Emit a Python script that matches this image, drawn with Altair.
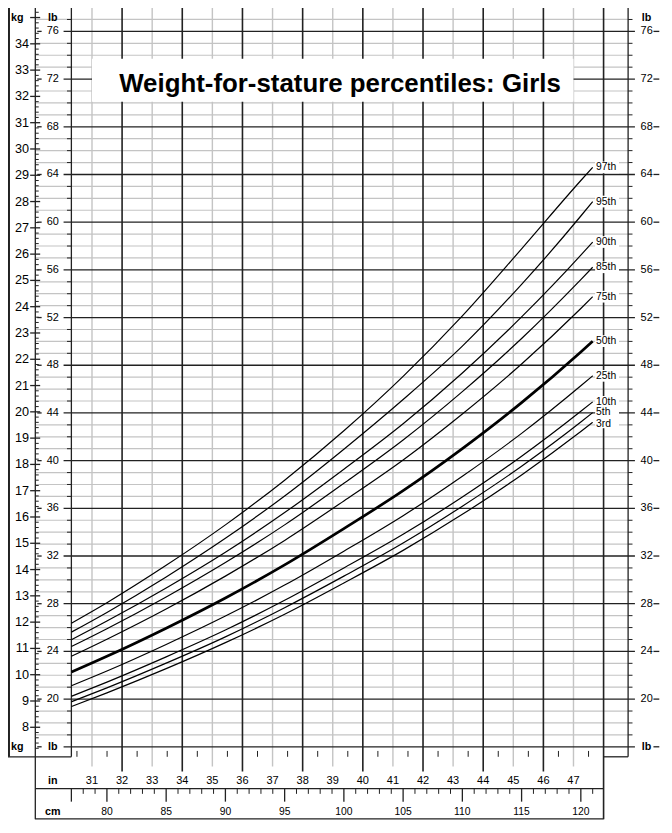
import altair as alt
import pandas as pd

stature_cm = [77, 80, 85, 90, 95, 100, 105, 110, 115, 120, 121]

# weight (kg) of each percentile curve at those statures
p97 = [11.96, 12.74, 14.16, 15.70, 17.40, 19.28, 21.35, 23.65, 26.20, 28.80, 29.30]
p95 = [11.62, 12.37, 13.72, 15.19, 16.80, 18.58, 20.47, 22.50, 24.85, 27.45, 28.00]
p90 = [11.33, 12.04, 13.30, 14.66, 16.17, 17.82, 19.55, 21.48, 23.61, 25.96, 26.46]
p85 = [11.07, 11.75, 12.96, 14.27, 15.70, 17.28, 18.93, 20.77, 22.79, 25.03, 25.50]
p75 = [10.70, 11.35, 12.50, 13.75, 15.11, 16.61, 18.17, 19.92, 21.82, 23.93, 24.38]
p50 = [10.10, 10.70, 11.77, 12.92, 14.18, 15.56, 17.00, 18.60, 20.35, 22.28, 22.69]
p25 = [9.58, 10.14, 11.15, 12.23, 13.41, 14.70, 16.05, 17.55, 19.18, 20.99, 21.37]
p10 = [9.18, 9.72, 10.68, 11.70, 12.83, 14.06, 15.34, 16.76, 18.31, 20.02, 20.38]
p5 = [8.97, 9.50, 10.44, 11.44, 12.55, 13.75, 15.01, 16.41, 17.93, 19.61, 19.97]
p3 = [8.79, 9.31, 10.23, 11.22, 12.30, 13.49, 14.73, 16.10, 17.60, 19.25, 19.60]

percentile_names = ["97th", "95th", "90th", "85th", "75th", "50th", "25th", "10th", "5th", "3rd"]
percentile_values = [p97, p95, p90, p85, p75, p50, p25, p10, p5, p3]

# tick labels
kg_labels = list(range(8, 35))
lb_labels = list(range(20, 77, 4))   # the 16 lb row carries the unit instead
inch_labels = list(range(31, 48))
cm_labels = list(range(80, 121, 5))

title = "Weight-for-stature percentiles: Girls"

LB = 0.45359237   # kg per lb
INCH = 2.54       # cm per inch

# layout: positions are measured in reference pixels, then scaled
S = 0.975
W = round(545.8 * S, 1)
H = round(768.5 * S, 1)
FONT = "Liberation Sans"
DARK = "#222222"
LIGHT = "#c4c4c4"


def hx(ref):
    # reference x -> pixels from the plot's left edge
    return round((ref - 65) * S, 2)


def vy(ref):
    return round(ref * S, 2)


xs = alt.Scale(domain=[77, 48 * INCH], nice=False, zero=False)
ys = alt.Scale(domain=[6.858, 35.363], nice=False, zero=False)


def X(f):
    return alt.X(f, type="quantitative", scale=xs, axis=None)


def Y(f):
    return alt.Y(f, type="quantitative", scale=ys, axis=None)


one = pd.DataFrame({"v": [0]})


def seg(x1, y1, x2, y2, color=DARK, width=1.3):
    return alt.Chart(one).mark_rule(color=color, strokeWidth=width).encode(
        x=alt.value(hx(x1)), x2=alt.value(hx(x2)),
        y=alt.value(vy(y1)), y2=alt.value(vy(y2)))


def hrules(df, x1, x2, color=DARK, width=1.3):
    return alt.Chart(df).mark_rule(color=color, strokeWidth=width).encode(
        y=Y("kg"), x=alt.value(hx(x1)), x2=alt.value(hx(x2)))


def vrules(df, y1, y2, color=DARK, width=1.3):
    return alt.Chart(df).mark_rule(color=color, strokeWidth=width).encode(
        x=X("cm"), y=alt.value(vy(y1)), y2=alt.value(vy(y2)))


def ytext(df, ref_x, size, align="center", bold=False):
    return alt.Chart(df).mark_text(
        font=FONT, fontSize=size * S, align=align, baseline="middle",
        fontWeight="bold" if bold else "normal", color="black"
    ).encode(y=Y("kg"), x=alt.value(hx(ref_x)), text="t:N")


def xtext(df, ref_y, size):
    return alt.Chart(df).mark_text(
        font=FONT, fontSize=size * S, baseline="middle", color="black"
    ).encode(x=X("cm"), y=alt.value(vy(ref_y)), text="t:N")


def label(txt, ref_x, ref_y, size=11):
    return alt.Chart(one).mark_text(
        text=txt, font=FONT, fontSize=size * S, fontWeight="bold",
        baseline="middle", color="black"
    ).encode(x=alt.value(hx(ref_x)), y=alt.value(vy(ref_y)))


def end_labels(df, dy):
    return alt.Chart(df).mark_text(
        font=FONT, fontSize=10.6 * S, align="left", baseline="middle",
        dx=3.5 * S, dy=dy, color="black"
    ).encode(x=X("cm"), y=Y("kg"), text="t:N")


# --- tables ---
curves = pd.DataFrame([
    {"pct": name, "cm": c, "kg": v}
    for name, vals in zip(percentile_names, percentile_values)
    for c, v in zip(stature_cm, vals)
])
ends = pd.DataFrame({
    "t": percentile_names,
    "cm": stature_cm[-1],
    "kg": [vals[-1] for vals in percentile_values],
})

lb_all = pd.DataFrame({"lb": list(range(17, 78))})
lb_all["kg"] = lb_all["lb"] * LB
lb_minor = lb_all[lb_all["lb"] % 4 != 0]
lb_major = pd.DataFrame({"lb": list(range(16, 77, 4))})
lb_major["kg"] = lb_major["lb"] * LB
lb_text = pd.DataFrame({"kg": [v * LB for v in lb_labels], "t": [str(v) for v in lb_labels]})

kg_major = pd.DataFrame({"kg": list(range(8, 36))})
kg_minor = pd.DataFrame({"kg": [round(7 + 0.2 * i, 1) for i in range(142) if i % 5]})
kg_text = pd.DataFrame({"kg": kg_labels, "t": [str(v) for v in kg_labels]})
units_kg = pd.DataFrame({"kg": [35, 16 * LB], "t": ["kg", "kg"]})
units_lb = pd.DataFrame({"kg": [35, 16 * LB], "t": ["lb", "lb"]})

inches = pd.DataFrame({"inch": inch_labels})
inches["cm"] = inches["inch"] * INCH
inches["t"] = inches["inch"].astype(str)
odd_in = inches[inches["inch"] % 2 == 1]
even_in = inches[inches["inch"] % 2 == 0]
edge_in = pd.DataFrame({"cm": [48 * INCH]})
half_in = pd.DataFrame({"cm": [(i + 0.5) * INCH for i in range(30, 48)]})

cm_all = pd.DataFrame({"cm": list(range(77, 122))})
cm_minor = cm_all[(cm_all["cm"] % 5 != 0) & (cm_all["cm"] != 77)]
cm_major = cm_all[(cm_all["cm"] % 5 == 0) | (cm_all["cm"] == 77)]
cm_text = pd.DataFrame({"cm": cm_labels, "t": [str(v) for v in cm_labels]})

title_box = pd.DataFrame({"x1": [31 * INCH], "x2": [47 * INCH],
                          "y1": [70.1 * LB], "y2": [73.7 * LB]})

# --- grid ---
grid = [
    hrules(lb_minor, 28, 636, LIGHT, 1.2),
    vrules(odd_in, 0, 778, LIGHT, 1.4),
    hrules(lb_major, 57, 643, DARK, 1.3),
    vrules(even_in, 0, 783, DARK, 1.6),
    vrules(edge_in, 0, 832, DARK, 1.6),
    vrules(half_in, 762, 768, DARK, 1),
]

# --- frames and axis lines ---
frames = [
    seg(1, 0, 1, 768, width=2),
    seg(0, 768, 65, 768),
    seg(28, 0, 28, 832),
    seg(65, 0, 65, 768),
    seg(636, 0, 636, 768),
    seg(610.8, 768, 636, 768),
    seg(28, 800.7, 610.8, 800.7),
    seg(28, 831.7, 610.8, 831.7),
]

ticks = [
    hrules(kg_major, 22.7, 33),
    hrules(kg_minor, 28, 31.5, width=1),
    hrules(lb_minor, 60.5, 65, width=1),
    hrules(lb_minor, 636, 640.5, width=1),
    hrules(lb_major, 30, 34.5),
    hrules(lb_major, 662, 668),
    vrules(cm_minor, 800.7, 806, width=1),
    vrules(cm_major, 800.7, 814, width=1.3),
]

# --- title ---
title_layers = [
    alt.Chart(title_box).mark_rect(color="white").encode(
        x=X("x1"), x2="x2:Q", y=Y("y1"), y2="y2:Q"),
    alt.Chart(one).mark_text(
        text=title, font=FONT, fontSize=26.5 * S, fontWeight="bold",
        baseline="alphabetic", color="black"
    ).encode(x=alt.value(hx(340.5)), y=alt.value(vy(86))),
]

# --- curves ---
curve_layers = [
    alt.Chart(ends).mark_rect(color="white", xOffset=2.5 * S, x2Offset=27 * S,
                              yOffset=-6 * S, y2Offset=6 * S).encode(
        x=X("cm"), x2="cm:Q", y=Y("kg"), y2="kg:Q"),
    alt.Chart(curves[curves["pct"] != "50th"]).mark_line(
        color="black", strokeWidth=1.2, interpolate="monotone"
    ).encode(x=X("cm"), y=Y("kg"), detail="pct:N"),
    alt.Chart(curves[curves["pct"] == "50th"]).mark_line(
        color="black", strokeWidth=2.7, interpolate="monotone"
    ).encode(x=X("cm"), y=Y("kg")),
    end_labels(ends[~ends["t"].isin(["5th", "3rd"])], 0),
    end_labels(ends[ends["t"] == "5th"], -0.5),
    end_labels(ends[ends["t"] == "3rd"], 1.8),
]

# --- axis texts ---
texts = [
    ytext(kg_text, 21.5, 13, align="right"),
    ytext(lb_text, 46, 11.2),
    ytext(lb_text, 655, 11.2),
    ytext(units_kg, 16, 11, align="right", bold=True),
    ytext(units_lb, 46, 11, bold=True),
    ytext(units_lb, 655, 11, bold=True),
    xtext(inches, 793, 11.3),
    xtext(cm_text, 825, 10.6),
    label("in", 46, 793),
    label("cm", 46, 825),
]

chart = alt.layer(*grid, *frames, *ticks, *title_layers, *curve_layers, *texts).properties(
    width=W,
    height=H,
    autosize="none",
    padding={"left": round(65 * S, 2), "top": 0,
             "right": round(655 - 65 * S - W, 2), "bottom": round(812 - H, 2)},
    background="white",
).configure_view(strokeWidth=0)

chart.save("out.html", embed_options={"renderer": "svg", "actions": False})
